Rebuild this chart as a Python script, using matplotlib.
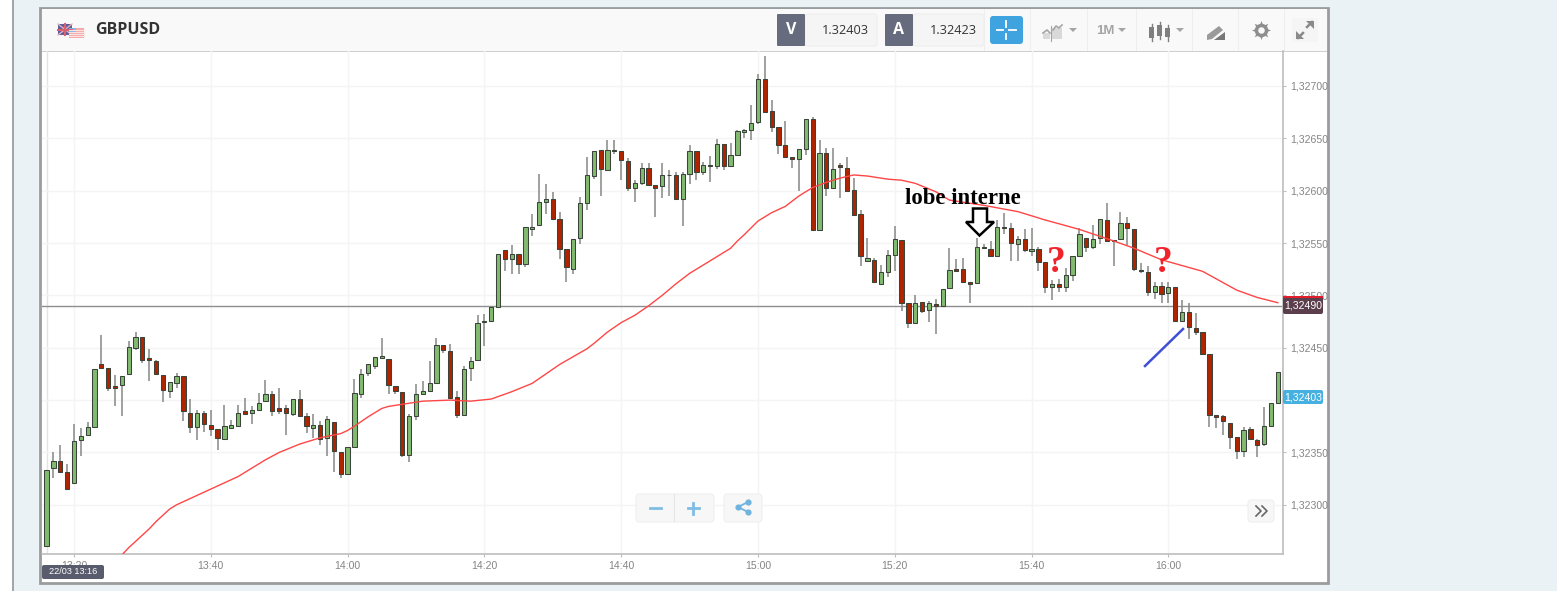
import matplotlib
matplotlib.use('Agg')
import matplotlib.pyplot as plt
from matplotlib.patches import Rectangle, FancyBboxPatch, Polygon

W, H = 1557, 591

# prices are stored in points above 1.32000, one candle per minute from 13:16
base = 1.32
opens = [261,335,342,331,321,362,367,374,434,431,
         413,414,425,450,460,440,437,424,409,416,
         423,388,374,388,376,372,363,373,375,390,
         388,391,399,406,392,392,387,401,385,373,
         376,364,379,350,329,355,406,426,433,440,
         439,413,408,348,385,406,409,416,453,447,
         403,386,431,438,475,476,489,543,535,540,
         530,563,567,589,592,573,544,525,555,588,
         614,639,620,639,638,628,603,607,622,605,
         604,615,615,592,616,638,618,625,624,645,
         624,634,656,658,666,707,676,661,644,632,
         630,640,668,562,636,603,625,622,601,578,
         533,534,511,522,539,553,493,474,494,486,
         492,490,507,525,525,513,512,546,544,538,
         565,564,549,554,542,544,532,508,511,508,
         519,538,555,546,555,572,552,554,569,563,
         524,522,503,509,502,508,476,484,469,465,
         444,386,385,378,365,351,372,362,358,375,
         397]
closes = [333,342,331,315,361,366,374,430,431,412,
          412,423,451,460,438,438,425,410,417,423,
          390,374,388,377,372,364,375,376,388,387,
          391,397,406,390,390,388,401,385,375,376,
          363,382,351,329,355,407,425,434,441,442,
          414,409,348,385,406,409,416,453,448,402,
          386,430,437,474,476,489,540,535,540,530,
          565,565,589,592,573,544,527,554,588,615,
          638,621,639,638,629,603,607,622,605,603,
          615,615,592,616,638,618,625,624,645,624,
          634,657,658,665,707,675,661,644,632,630,
          640,668,562,636,603,621,623,600,577,538,
          536,513,522,539,554,493,474,493,485,493,
          490,506,524,523,513,511,546,545,538,565,
          564,550,554,543,544,532,508,511,508,519,
          538,559,546,554,573,552,553,569,564,525,
          523,503,509,501,508,476,484,470,465,444,
          386,384,380,365,351,371,363,357,375,397,
          427]
highs = [333,350,357,339,377,373,379,430,462,431,
         424,423,456,465,460,449,438,424,417,426,
         423,401,391,390,391,372,395,381,395,402,
         394,407,419,409,412,395,401,410,388,387,
         380,385,379,350,355,420,430,434,441,459,
         439,413,408,387,415,418,437,459,453,454,
         409,433,441,481,482,489,540,543,548,540,
         565,578,616,606,599,580,544,554,594,632,
         638,639,648,648,638,631,610,626,626,605,
         626,620,618,618,644,638,627,633,649,645,
         646,658,659,682,711,729,687,661,667,632,
         640,668,670,648,641,641,626,632,612,582,
         555,536,529,543,566,553,493,500,494,495,
         497,506,545,535,536,513,555,549,552,572,
         579,569,557,563,564,546,532,515,516,526,
         538,564,555,567,573,588,553,580,575,563,
         531,528,513,513,513,508,496,493,483,465,
         444,386,386,378,365,374,374,363,393,397,
         427]
lows = [261,326,331,315,321,347,367,374,431,409,
        394,385,425,448,435,418,424,398,402,412,
        380,369,362,370,366,352,363,373,375,387,
        377,391,399,385,387,367,385,385,369,364,
        357,347,331,326,329,355,402,423,430,439,
        406,406,346,341,381,406,409,416,445,401,
        383,386,418,438,452,475,488,523,520,520,
        527,557,567,578,572,535,513,520,549,582,
        611,595,620,635,610,600,589,605,605,575,
        593,595,592,566,606,610,615,608,621,620,
        623,634,650,648,664,674,656,635,631,622,
        600,634,562,562,595,602,593,600,577,528,
        533,512,511,518,523,485,469,474,483,475,
        463,490,507,523,513,493,512,544,538,537,
        559,533,533,541,538,523,502,496,503,503,
        514,538,541,544,549,552,528,554,548,523,
        521,499,497,493,493,475,476,458,462,444,
        374,373,367,353,344,346,362,346,356,375,
        396]

ma_minutes = [11,12,13,14,15,16,17,18,19,20,22,24,26,28,30,32,34,37,40,43,
              44,45,47,49,50,52,55,59,62,65,68,71,75,79,80,82,84,86,88,90,
              92,94,96,98,100,101,102,104,106,108,110,112,114,116,118,120,123,125,127,130,
              132,134,137,142,146,151,156,159,163,169,174,177,180]
ma_values = [252,259,265,271,277,284,290,296,300,303,309,315,321,327,335,343,350,358,364,368,
             371,375,384,392,394,396,399,400,399,401,408,416,434,449,454,465,474,481,490,500,
             511,521,529,537,545,552,558,571,579,585,595,603,608,612,615,614,611,610,607,599,
             591,589,586,580,572,563,552,545,534,523,505,498,493]

time_ticks = [4, 24, 44, 64, 84, 104, 124, 144, 164]
time_labels = ['13:20', '13:40', '14:00', '14:20', '14:40', '15:00', '15:20', '15:40', '16:00']
price_ticks = [1.32300, 1.32350, 1.32400, 1.32450, 1.32500, 1.32550, 1.32600, 1.32650, 1.32700]
price_labels = ['1,32300', '1,32350', '', '1,32450', '1,32500', '1,32550', '1,32600', '1,32650', '1,32700']
last_close = 1.32490
bid_text, ask_text = '1.32403', '1.32423'


def to_price(values):
    return [base + v / 100000 for v in values]


plt.rcParams['font.family'] = ['Liberation Sans', 'DejaVu Sans']

fig = plt.figure(figsize=(W / 100, H / 100), dpi=100, facecolor='white')


def pixel_axes(z):
    a = fig.add_axes([0, 0, 1, 1], zorder=z)
    a.set_xlim(0, W)
    a.set_ylim(H, 0)
    a.axis('off')
    a.patch.set_alpha(0)
    return a


def box(a, x0, y0, x1, y1, **kw):
    a.add_patch(Rectangle((x0, y0), x1 - x0, y1 - y0, **kw))


def round_box(a, x0, y0, x1, y1, r=2, **kw):
    a.add_patch(FancyBboxPatch((x0 + r, y0 + r), x1 - x0 - 2 * r, y1 - y0 - 2 * r,
                               boxstyle='round,pad=%d,rounding_size=%d' % (r, r), **kw))


# page and card behind the chart
back = pixel_axes(0)
box(back, 13, -2, W + 2, H + 2, fc='#EAF2F6', ec='none')
box(back, 12, -2, 14.5, H + 2, fc='#A3A6A8', ec='none')
box(back, 40.5, 7.5, 1328.5, 583, fc='white', ec='#9A9C9E', lw=2)
box(back, 42, 9, 1327, 51, fc='#F9F9F9', ec='none')
box(back, 42, 51, 1327, 52, fc='#CFCFCF', ec='none')

# price chart
left, right, top, bottom = 42, 1283, 51, 553.5
ax = fig.add_axes([left / W, 1 - bottom / H, (right - left) / W, (bottom - top) / H], zorder=1)
ax.patch.set_alpha(0)
ax.set_xlim(-0.67, 180.76)
ax.set_ylim(1.322535, 1.327334)

ax.grid(True, color='#F4F4F4', lw=1)
ax.set_axisbelow(True)
ax.axvline(0, color='#E4E4E4', lw=1, zorder=0)

for s in ['top', 'left']:
    ax.spines[s].set_visible(False)
for s in ['right', 'bottom']:
    ax.spines[s].set_color('#BDBDBD')
    ax.spines[s].set_linewidth(1.2)

ax.yaxis.tick_right()
ax.set_xticks(time_ticks)
ax.set_xticklabels(time_labels)
ax.set_yticks(price_ticks)
ax.set_yticklabels(price_labels)
ax.tick_params(axis='both', length=2.5, width=0.8, color='#BDBDBD', labelcolor='#858585', labelsize=7.6)
ax.tick_params(axis='x', pad=3)
ax.tick_params(axis='y', pad=2.5)

ax.axhline(last_close, color='#8E8E8E', lw=1, zorder=2)

minutes = list(range(len(opens)))
o = to_price(opens)
c = to_price(closes)
hi = to_price(highs)
lo = to_price(lows)
ax.vlines(minutes, lo, hi, color='#858885', lw=1.1, zorder=3)
body_color = ['#82BA70' if closes[i] >= opens[i] else '#B02400' for i in minutes]
body_low = [min(o[i], c[i]) for i in minutes]
body_size = [abs(c[i] - o[i]) for i in minutes]
ax.bar(minutes, body_size, bottom=body_low, width=0.62, color=body_color,
       edgecolor='#3A443A', linewidth=0.75, zorder=4)

ax.plot(ma_minutes, to_price(ma_values), color='#FF4646', lw=1, zorder=5)

# everything that sits on top: header, badges, buttons, hand drawn notes
ui = pixel_axes(2)

# flags
box(ui, 58, 24, 72, 35, fc='#5A5F9E', ec='none')
ui.plot([58, 72], [24, 35], color='#E8B0B8', lw=1)
ui.plot([58, 72], [35, 24], color='#E8B0B8', lw=1)
ui.plot([65, 65], [24, 35], color='#D9606E', lw=1.5)
ui.plot([58, 72], [29.5, 29.5], color='#D9606E', lw=1.5)
box(ui, 69, 28, 84, 38, fc='#F4A8A8', ec='none')
for yy in [30, 32, 34, 36]:
    ui.plot([69, 84], [yy, yy], color='#FBE3E3', lw=0.8)
box(ui, 69, 28, 76, 33, fc='#7FB8E8', ec='none')
ui.text(95, 30, 'GBPUSD', fontsize=11.5, fontweight='bold', family=['Open Sans', 'DejaVu Sans'],
        color='#333333', va='center', ha='left')

# bid and ask
round_box(ui, 805, 14, 877, 46, r=3, fc='#F5F5F5', ec='#EEEEEE', lw=0.8)
round_box(ui, 777, 14, 805, 46, r=1, fc='#666B7E', ec='none')
ui.text(791, 30, 'V', color='white', fontsize=11.5, fontweight='bold', ha='center', va='center',
        family=['Open Sans', 'DejaVu Sans'])
ui.text(845, 30, bid_text, color='#333333', fontsize=9.2, ha='center', va='center',
        family=['Open Sans', 'DejaVu Sans'])
round_box(ui, 913, 14, 984, 46, r=3, fc='#F5F5F5', ec='#EEEEEE', lw=0.8)
round_box(ui, 885, 14, 913, 46, r=1, fc='#666B7E', ec='none')
ui.text(899, 30, 'A', color='white', fontsize=11.5, fontweight='bold', ha='center', va='center',
        family=['Open Sans', 'DejaVu Sans'])
ui.text(953, 30, ask_text, color='#333333', fontsize=9.2, ha='center', va='center',
        family=['Open Sans', 'DejaVu Sans'])

# crosshair button
round_box(ui, 990, 16, 1023, 44, r=3, fc='#3FA3DF', ec='none')
for seg in [([997, 1003.5], [30, 30]), ([1009.5, 1016], [30, 30]), ([1006.5, 1006.5], [21, 26.5]), ([1006.5, 1006.5], [33.5, 39])]:
    ui.plot(seg[0], seg[1], color='white', lw=1.3)

# toolbar separators
for xx in [984, 1030, 1087, 1136, 1192, 1238, 1284]:
    box(ui, xx, 9, xx + 1, 51, fc='#EEEEEE', ec='none')

# chart style icon
box(ui, 1043, 33, 1050, 39, fc='#D9D9D9', ec='none')
box(ui, 1052, 28, 1062, 39, fc='#D9D9D9', ec='none')
ui.plot([1043, 1047, 1050], [33, 30, 33], color='#A5A5A5', lw=1.2)
ui.plot([1053, 1056, 1059, 1062], [30, 26, 28, 25], color='#A5A5A5', lw=1.2)
ui.plot([1051, 1051], [26, 41], color='#A5A5A5', lw=0.8)
ui.add_patch(Polygon([[1069, 28], [1077, 28], [1073, 32]], fc='#A5A5A5', ec='none'))

# timeframe
ui.text(1105, 31, '1M', color='#A5A5A5', fontsize=9.5, fontweight='bold', ha='center', va='center')
ui.add_patch(Polygon([[1118, 28], [1126, 28], [1122, 32]], fc='#A5A5A5', ec='none'))

# candle icon
for xx, y0, y1, w0, w1 in [(1152, 27, 38, 24, 41), (1160, 25, 36, 22, 39), (1168, 28, 37, 25, 41)]:
    ui.plot([xx, xx], [w0, w1], color='#7F7F7F', lw=1)
    box(ui, xx - 2.5, y0, xx + 2.5, y1, fc='#7F7F7F', ec='none')
ui.add_patch(Polygon([[1176, 28], [1184, 28], [1180, 32]], fc='#A5A5A5', ec='none'))

# pencil icon
ui.add_patch(Polygon([[1207, 35], [1219, 26], [1223, 30], [1212, 39], [1207, 40]], fc='#9A9A9A', ec='none'))
ui.add_patch(Polygon([[1214, 40], [1225, 32], [1225, 40]], fc='#777777', ec='none'))

# settings gear, filled with a hole
ui.scatter([1261], [30], s=190, marker=(8, 1, 0), color='#8E8E8E', lw=0)
ui.scatter([1261], [30], s=95, marker='o', color='#8E8E8E', lw=0)
ui.scatter([1261], [30], s=22, marker='o', color='#F9F9F9', lw=0)

# fullscreen
box(ui, 1292, 18, 1318, 42, fc='#F5F5F5', ec='none')
ui.plot([1298, 1303], [38, 33], color='#8A8A8A', lw=1.8)
ui.plot([1307, 1312], [27, 22], color='#8A8A8A', lw=1.8)
ui.add_patch(Polygon([[1306, 21], [1314, 21], [1314, 29]], fc='#8A8A8A', ec='none'))
ui.add_patch(Polygon([[1296, 31], [1296, 39], [1304, 39]], fc='#8A8A8A', ec='none'))

# zoom and share buttons
round_box(ui, 636, 494, 714, 522, r=3, fc='#F7F7F7', ec='#EFEFEF', lw=0.8)
box(ui, 674, 494, 675, 522, fc='#E4E4E4', ec='none')
ui.plot([650, 661], [508, 508], color='#7FBDE2', lw=2)
ui.plot([688, 699], [508, 508], color='#7FBDE2', lw=2)
ui.plot([693.5, 693.5], [502.5, 513.5], color='#7FBDE2', lw=2)
round_box(ui, 724, 494, 762, 522, r=3, fc='#F7F7F7', ec='#EFEFEF', lw=0.8)
ui.plot([748, 738, 748], [502, 507, 512], color='#6FB4DE', lw=1.3)
ui.scatter([748, 738, 748], [502, 507, 512], s=12, color='#6FB4DE', zorder=3)

round_box(ui, 1248, 500, 1274, 522, r=3, fc='#F7F7F7', ec='#EFEFEF', lw=0.8)
ui.plot([1256, 1261, 1256], [506, 511, 516], color='#666666', lw=1.2)
ui.plot([1262, 1267, 1262], [506, 511, 516], color='#666666', lw=1.2)

# price and date badges
round_box(ui, 1283, 296, 1323, 314, r=2, fc='#5C3F4C', ec='none')
box(ui, 1283, 296, 1323, 298, fc='#E21E2C', ec='none')
ui.text(1303, 306, ('%.5f' % last_close).replace('.', ','), color='white', fontsize=7.6, ha='center', va='center')
round_box(ui, 1283, 390, 1323, 404, r=2, fc='#46B1E1', ec='none')
ui.text(1303, 397, bid_text.replace('.', ','), color='white', fontsize=7.6, ha='center', va='center')
round_box(ui, 42, 565, 104, 579, r=2, fc='#585C6C', ec='none')
ui.text(73, 572, '22/03 13:16', color='white', fontsize=6.6, ha='center', va='center')

# notes written on the screenshot
ui.text(963, 198, 'lobe interne', color='black', fontsize=16.4, fontweight='bold',
        family=['Liberation Serif', 'DejaVu Serif'], ha='center', va='center')
ui.add_patch(Polygon([[973, 208.5], [987, 208.5], [987, 222], [994, 222], [979.5, 235.5], [966, 222], [973, 222]],
                     fc='white', ec='black', lw=1.8, joinstyle='miter'))
for xx in [1056, 1163]:
    ui.text(xx, 263, '?', color='#F0222A', fontsize=27, fontweight='bold',
            family=['Liberation Serif', 'DejaVu Serif'], ha='center', va='center')
ui.plot([1145, 1183], [366, 329], color='#3F4FD6', lw=1.8)

fig.savefig('out.png', dpi=100)
